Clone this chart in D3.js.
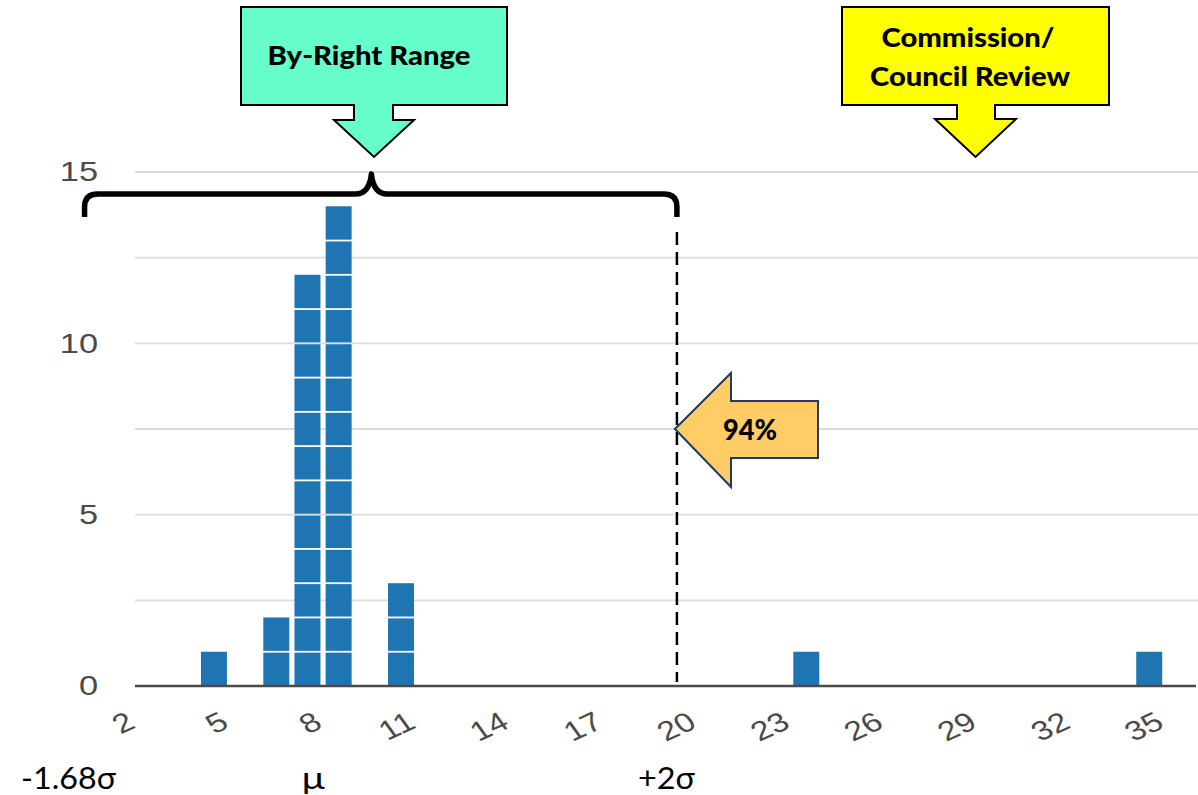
<!DOCTYPE html>
<html>
<head>
<meta charset="utf-8">
<script src="https://cdn.jsdelivr.net/npm/d3@7"></script>
<style>
  html, body { margin: 0; padding: 0; background: #ffffff; }
  svg { display: block; }
</style>
</head>
<body>
<svg id="chart" width="1198" height="795"></svg>
<script>
// ---- data ----
const binStarts = [4, 6, 7, 8, 10, 23, 34];     // histogram bucket lower edges (width 1)
const binCounts = [1, 2, 12, 14, 3, 1, 1];      // items per bucket
const xTickValues = [2, 5, 8, 11, 14, 17, 20, 23, 26, 29, 32, 35];
const yTickValues = [0, 5, 10, 15];
const yGridValues = [0, 2.5, 5, 7.5, 10, 12.5, 15];
const sigmaLineValue = 19.35;                   // +2σ cut-off marker
const braceLeftValue = 0.35, braceMidValue = 9.55;
const bottomLabels = [
  { text: "-1.68σ", value: -1.69 },
  { text: "μ",      value: 7.32 },
  { text: "+2σ",    value: 18.1 }
];

// ---- layout ----
const svg = d3.select("#chart");
const x = d3.scaleLinear().domain([2, 36]).range([136, 1196]);
const y = d3.scaleLinear().domain([0, 15]).range([686, 172]);
const labelColor = "#4a4a4a";
const stretch = 1.25;

// gridlines
svg.append("g").selectAll("line").data(yGridValues.filter(v => v !== 0)).join("line")
  .attr("x1", 135).attr("x2", 1198)
  .attr("y1", d => y(d)).attr("y2", d => y(d))
  .attr("stroke", "#dcdcdc").attr("stroke-width", 1.8);

// y labels
svg.append("g").selectAll("text").data(yTickValues).join("text")
  .attr("transform", d => `translate(98,${y(d)}) scale(${stretch},1)`)
  .attr("text-anchor", "end").attr("dominant-baseline", "central")
  .attr("font-family", "'Liberation Sans', Arial, sans-serif")
  .attr("font-size", 27.5).attr("fill", labelColor)
  .text(d => d);

// bars (stacked unit blocks)
const blocks = [];
binStarts.forEach((b, i) => {
  for (let k = 0; k < binCounts[i]; k++) blocks.push({ b, k, n: binCounts[i] });
});
const inset = 2.6, gap = 0.9;
svg.append("g").selectAll("rect").data(blocks).join("rect")
  .attr("x", d => x(d.b) + inset)
  .attr("width", d => x(d.b + 1) - x(d.b) - 2 * inset)
  .attr("y", d => y(d.k + 1) + (d.k + 1 === d.n ? 0 : gap))
  .attr("height", d => y(d.k) - y(d.k + 1) - (d.k + 1 === d.n ? 0 : gap) - (d.k === 0 ? 0 : gap))
  .attr("fill", "#1f74b2");

// baseline
svg.append("line")
  .attr("x1", 135).attr("x2", 1196)
  .attr("y1", y(0)).attr("y2", y(0))
  .attr("stroke", "#4a4a4a").attr("stroke-width", 2.6);

// x labels (slanted)
svg.append("g").selectAll("text").data(xTickValues).join("text")
  .attr("transform", d => `translate(${x(d) + 1},727) scale(${stretch},1) rotate(-30)`)
  .attr("text-anchor", "end")
  .attr("font-family", "'Liberation Sans', Arial, sans-serif")
  .attr("font-size", 27).attr("fill", labelColor)
  .text(d => d);

// dashed +2σ line
svg.append("line")
  .attr("x1", x(sigmaLineValue)).attr("x2", x(sigmaLineValue))
  .attr("y1", 232).attr("y2", y(0) - 4)
  .attr("stroke", "#000").attr("stroke-width", 2.5)
  .attr("stroke-dasharray", "13,7");

// curly brace
const bl = x(braceLeftValue), bm = x(braceMidValue), br = x(sigmaLineValue);
const by = 194;
svg.append("path")
  .attr("d", `M${bl},217 L${bl},207 Q${bl},${by} ${bl + 13},${by} L${bm - 16},${by} Q${bm - 2},${by} ${bm},${by - 20} Q${bm + 2},${by} ${bm + 16},${by} L${br - 13},${by} Q${br},${by} ${br},207 L${br},217`)
  .attr("fill", "none").attr("stroke", "#000").attr("stroke-width", 5.5)
  .attr("stroke-linejoin", "round");

// down-arrow callouts
function downCallout(x0, x1, y0, y1, sx0, sx1, sy, hx0, hx1, tipY, fill) {
  const tipX = (hx0 + hx1) / 2;
  const pts = [[x0,y0],[x1,y0],[x1,y1],[sx1,y1],[sx1,sy],[hx1,sy],[tipX,tipY],[hx0,sy],[sx0,sy],[sx0,y1],[x0,y1]];
  svg.append("polygon")
    .attr("points", pts.map(p => p.join(",")).join(" "))
    .attr("fill", fill).attr("stroke", "#000").attr("stroke-width", 2);
}
downCallout(241, 507, 7, 105, 354, 393, 120, 334, 414, 157, "#66ffcc");
downCallout(842, 1109, 7, 105, 957, 995, 119, 935, 1016, 157, "#ffff00");

const calloutFont = "Lato, 'Noto Sans', sans-serif";
function boldText(t, cx, baseY, len, size) {
  svg.append("text").attr("x", cx).attr("y", baseY)
    .attr("text-anchor", "middle")
    .attr("font-family", calloutFont).attr("font-weight", "900")
    .attr("font-size", size).attr("fill", "#000")
    .attr("textLength", len).attr("lengthAdjust", "spacingAndGlyphs")
    .text(t);
}
boldText("By-Right Range", 369, 65, 203, 26);
boldText("Commission/", 968, 47, 173, 27);
boldText("Council Review", 970, 86, 200, 27);

// left arrow 94%
svg.append("polygon")
  .attr("points", [[x(sigmaLineValue) - 2,429],[731,373],[731,401],[818,401],[818,458],[731,458],[731,487]].map(p => p.join(",")).join(" "))
  .attr("fill", "#ffcc66").attr("stroke", "#1f3864").attr("stroke-width", 2);
boldText("94%", 750, 440, 54, 28);

// bottom sigma labels
const bottomLens = [95, 23, 57];
svg.append("g").selectAll("text").data(bottomLabels).join("text")
  .attr("x", d => x(d.value)).attr("y", 789)
  .attr("font-family", calloutFont).attr("font-size", 31).attr("fill", "#000")
  .attr("textLength", (d, i) => bottomLens[i]).attr("lengthAdjust", "spacingAndGlyphs")
  .text(d => d.text);
</script>
</body>
</html>
